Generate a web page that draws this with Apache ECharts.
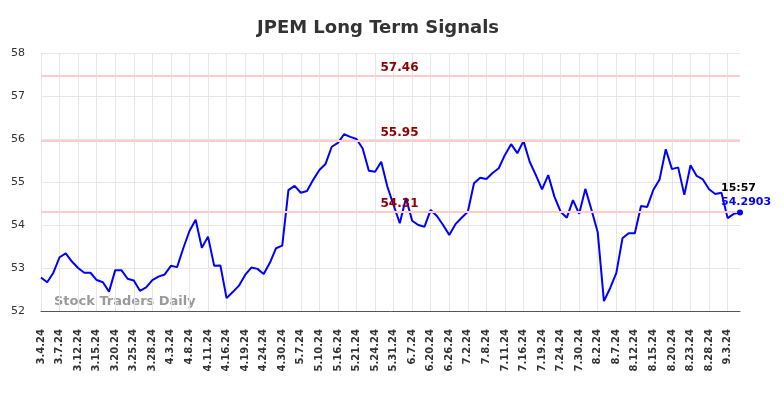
<!DOCTYPE html>
<html>
<head>
<meta charset="utf-8">
<script src="https://cdn.jsdelivr.net/npm/echarts@6/dist/echarts.min.js"></script>
<style>html,body{margin:0;padding:0;background:#fff}#c{width:784px;height:398px}</style>
</head>
<body>
<div id="c"></div>
<script>
const titleText = "JPEM Long Term Signals";
const categories = [
"3.4.24","3.5.24","3.6.24","3.7.24","3.8.24","3.11.24","3.12.24","3.13.24","3.14.24","3.15.24","3.18.24","3.19.24",
"3.20.24","3.21.24","3.22.24","3.25.24","3.26.24","3.27.24","3.28.24","4.1.24","4.2.24","4.3.24","4.4.24","4.5.24",
"4.8.24","4.9.24","4.10.24","4.11.24","4.12.24","4.15.24","4.16.24","4.17.24","4.18.24","4.19.24","4.22.24","4.23.24",
"4.24.24","4.25.24","4.26.24","4.30.24","5.1.24","5.2.24","5.7.24","5.8.24","5.9.24","5.10.24","5.13.24","5.14.24",
"5.16.24","5.17.24","5.20.24","5.21.24","5.22.24","5.23.24","5.24.24","5.28.24","5.29.24","5.31.24","6.3.24","6.5.24",
"6.7.24","6.11.24","6.14.24","6.20.24","6.21.24","6.24.24","6.26.24","6.27.24","6.28.24","7.2.24","7.3.24","7.5.24",
"7.8.24","7.9.24","7.10.24","7.11.24","7.12.24","7.15.24","7.16.24","7.17.24","7.18.24","7.19.24","7.22.24","7.23.24",
"7.24.24","7.25.24","7.26.24","7.30.24","7.31.24","8.1.24","8.2.24","8.5.24","8.6.24","8.7.24","8.8.24","8.9.24",
"8.12.24","8.13.24","8.14.24","8.15.24","8.16.24","8.19.24","8.20.24","8.21.24","8.22.24","8.23.24","8.26.24","8.27.24",
"8.28.24","8.29.24","8.30.24","9.3.24","9.4.24","9.5.24"];
const prices = [
52.78,52.67,52.89,53.25,53.34,53.15,53.00,52.89,52.89,52.72,52.67,52.45,
52.95,52.95,52.75,52.71,52.47,52.55,52.72,52.80,52.85,53.05,53.02,53.46,
53.86,54.12,53.47,53.73,53.05,53.06,52.30,52.44,52.59,52.84,53.01,52.98,
52.86,53.12,53.46,53.52,54.81,54.91,54.75,54.79,55.05,55.28,55.42,55.82,
55.91,56.11,56.05,56.00,55.78,55.26,55.24,55.47,54.89,54.46,54.04,54.63,
54.10,54.00,53.96,54.35,54.21,54.00,53.77,54.02,54.17,54.31,54.97,55.10,
55.07,55.21,55.32,55.63,55.88,55.67,55.95,55.47,55.16,54.83,55.16,54.66,
54.31,54.17,54.58,54.26,54.84,54.35,53.83,52.23,52.53,52.88,53.69,53.81,
53.81,54.44,54.42,54.82,55.06,55.76,55.30,55.34,54.70,55.39,55.14,55.06,
54.83,54.72,54.75,54.16,54.26,54.2903];
const signalLevels = [57.46, 55.95, 54.31];
const lastTime = "15:57";
const lastPrice = 54.2903;
const yTicks = [52, 53, 54, 55, 56, 57, 58];

const chart = echarts.init(document.getElementById('c'));
const lastIdx = prices.length - 1;
chart.setOption({
  animation: false,
  backgroundColor: '#ffffff',
  title: {
    text: titleText, left: 252, top: 14,
    textStyle: {fontFamily: 'DejaVu Sans', fontWeight: 'bold', fontSize: 18, color: '#333333'}
  },
  grid: {left: 41, right: 44, top: 53, bottom: 87, containLabel: false},
  xAxis: {
    type: 'category', data: categories, boundaryGap: false,
    axisLine: {lineStyle: {color: '#555555', width: 1}},
    axisTick: {show: false},
    axisLabel: {interval: 2, rotate: 90, margin: 18, fontSize: 10, fontWeight: 'bold', color: '#333333', fontFamily: 'DejaVu Sans'},
    splitLine: {show: true, interval: 2, lineStyle: {color: '#e6e6e6', width: 1}}
  },
  yAxis: {
    type: 'value', min: yTicks[0], max: yTicks[yTicks.length - 1], interval: 1,
    axisLine: {show: false}, axisTick: {show: false},
    axisLabel: {fontSize: 11, color: '#333333', margin: 16, fontFamily: 'DejaVu Sans'},
    splitLine: {lineStyle: {color: '#e6e6e6', width: 1}}
  },
  graphic: [{
    type: 'text', left: 54, top: 295, silent: true,
    style: {text: 'Stock Traders Daily', fontFamily: 'DejaVu Sans', fontWeight: 'bold', fontSize: 13, fill: 'rgba(120,120,120,0.75)'}
  }],
  series: [{
    type: 'line', data: prices, showSymbol: false, symbol: 'none',
    lineStyle: {color: '#0000ff', width: 2},
    markLine: {
      silent: true, symbol: 'none',
      lineStyle: {color: '#ffcccc', width: 2, type: 'solid'},
      label: {
        position: 'insideMiddleTop', distance: 2, padding: [0, 0, 0, 18],
        color: '#8b0000', fontWeight: 'bold', fontSize: 12, fontFamily: 'DejaVu Sans',
        formatter: p => p.value.toFixed(2)
      },
      data: signalLevels.map(v => ({yAxis: v}))
    },
    markPoint: {
      silent: true,
      data: [
        {coord: [lastIdx, lastPrice], symbol: 'circle', symbolSize: 6, itemStyle: {color: '#0000ff'}, label: {show: false}},
        {coord: [lastIdx, lastPrice], symbolSize: 0, label: {show: true, position: 'inside', align: 'left', verticalAlign: 'middle', offset: [-19, -24], formatter: lastTime, color: '#000000', fontWeight: 'bold', fontSize: 11, fontFamily: 'DejaVu Sans'}},
        {coord: [lastIdx, lastPrice], symbolSize: 0, label: {show: true, position: 'inside', align: 'left', verticalAlign: 'middle', offset: [-19, -10], formatter: String(lastPrice), color: '#0000ff', fontWeight: 'bold', fontSize: 11, fontFamily: 'DejaVu Sans'}}
      ]
    }
  }]
});
</script>
</body>
</html>
